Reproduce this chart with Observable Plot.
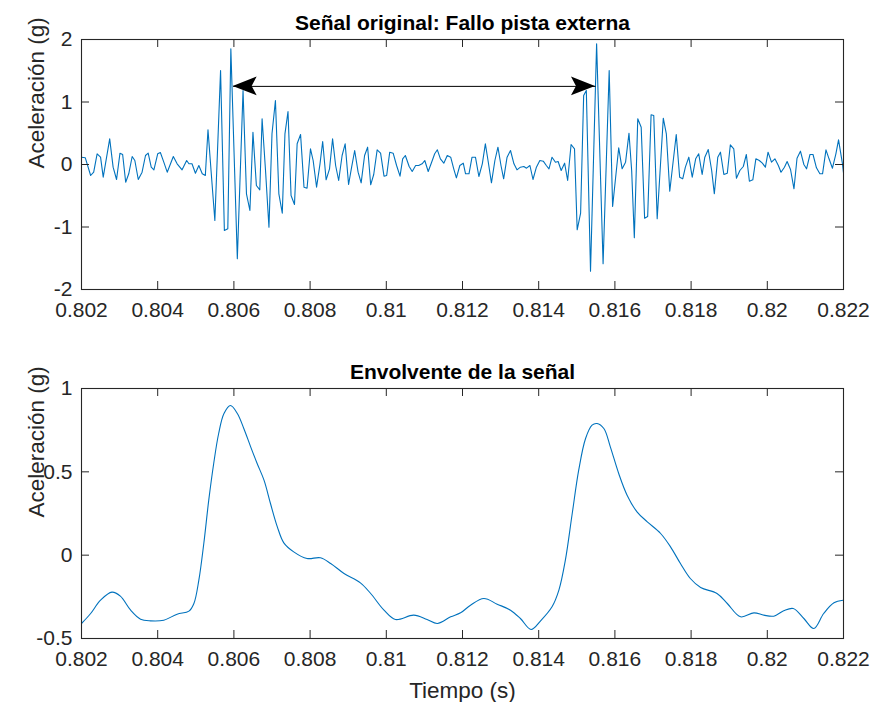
<!DOCTYPE html>
<html><head><meta charset="utf-8">
<script src="https://cdn.jsdelivr.net/npm/d3@7"></script>
<script src="https://cdn.jsdelivr.net/npm/@observablehq/plot@0.6"></script>
<style>
body{margin:0;background:#fff;}
#chart{width:873px;height:702px;overflow:hidden;}
#chart svg{display:block;}
</style></head><body><div id="chart"></div>
<script>
// ---------- data ----------
const sigT = [0.80200,0.80210,0.80224,0.80232,0.80241,0.80250,0.80257,0.80274,0.80283,0.80292,0.80301,0.80308,0.80316,0.80324,0.80333,0.80340,0.80349,0.80359,0.80368,0.80375,0.80383,0.80390,0.80400,0.80407,0.80416,0.80425,0.80441,0.80451,0.80464,0.80476,0.80482,0.80490,0.80499,0.80508,0.80517,0.80525,0.80532,0.80540,0.80550,0.80565,0.80575,0.80584,0.80592,0.80609,0.80624,0.80633,0.80642,0.80650,0.80659,0.80668,0.80674,0.80683,0.80692,0.80700,0.80709,
0.80718,0.80727,0.80734,0.80742,0.80750,0.80759,0.80766,0.80775,0.80784,0.80792,0.80801,0.80808,0.80817,0.80826,0.80833,0.80842,0.80851,0.80859,0.80867,0.80875,0.80884,0.80892,0.80901,0.80909,0.80917,0.80926,0.80934,0.80943,0.80951,0.80959,0.80967,0.80976,0.80985,0.80994,0.81001,0.81009,0.81018,0.81027,0.81036,0.81043,0.81050,0.81060,0.81068,0.81077,0.81085,0.81094,0.81101,0.81110,0.81119,0.81127,0.81134,0.81142,0.81151,0.81160,0.81169,0.81177,0.81184,0.81193,
0.81202,0.81208,0.81217,0.81225,0.81234,0.81243,0.81252,0.81260,0.81267,0.81276,0.81285,0.81293,0.81301,0.81308,0.81317,0.81326,0.81335,0.81343,0.81352,0.81361,0.81368,0.81377,0.81385,0.81394,0.81403,0.81412,0.81420,0.81427,0.81435,0.81444,0.81451,0.81459,0.81468,0.81476,0.81485,0.81494,0.81501,0.81510,0.81518,0.81525,0.81536,0.81552,0.81569,0.81585,0.81594,0.81610,0.81619,0.81628,0.81637,0.81644,0.81651,0.81660,0.81669,0.81678,0.81686,0.81695,0.81702,
0.81711,0.81727,0.81735,0.81744,0.81761,0.81770,0.81778,0.81785,0.81794,0.81803,0.81812,0.81820,0.81829,0.81836,0.81845,0.81854,0.81861,0.81870,0.81877,0.81886,0.81895,0.81903,0.81912,0.81919,0.81928,0.81937,0.81945,0.81953,0.81962,0.81970,0.81979,0.81987,0.81995,0.82002,0.82011,0.82020,0.82029,0.82036,0.82045,0.82052,0.82061,0.82070,0.82078,0.82087,0.82096,0.82103,0.82112,0.82120,0.82129,0.82138,0.82145,0.82154,0.82162,0.82171,0.82180,0.82187,0.82197,0.82203];
const sigV = [0.117,0.107,-0.176,-0.123,0.171,0.117,-0.203,0.411,-0.043,-0.24,0.181,0.16,-0.283,-0.149,0.128,0.064,-0.24,-0.123,0.144,0.181,-0.043,-0.085,0.171,0.192,0.037,-0.123,0.128,0.011,-0.085,0.064,0.011,0.011,-0.139,-0.016,-0.149,-0.176,0.555,-0.096,-0.896,1.504,-1.056,-1.029,1.851,-1.509,1.184,-0.469,-0.736,0.517,-0.336,-0.405,0.731,-0.096,-1.003,0.491,1.024,
-0.469,-0.779,0.491,0.848,-0.496,-0.64,0.331,0.48,-0.363,-0.379,0.251,0.064,-0.363,0.011,0.368,-0.245,-0.069,0.411,-0.016,-0.256,0.144,0.331,-0.32,-0.043,0.224,-0.123,-0.293,0.144,0.277,-0.325,-0.16,0.235,0.181,-0.187,-0.176,0.197,0.181,-0.016,-0.187,0.091,0.144,-0.032,-0.112,-0.016,-0.016,0.011,0.064,-0.112,0.037,0.171,0.235,0.091,0.021,0.144,0.117,-0.069,-0.213,-0.016,
0.021,-0.149,-0.149,0.117,0.117,-0.192,0.011,0.331,0.064,-0.293,0.064,0.277,-0.016,-0.229,0.117,0.224,0.011,-0.085,-0.043,-0.032,-0.059,-0.016,-0.24,-0.043,0.064,0.053,-0.016,-0.069,0.117,0.037,0.048,-0.096,0.021,-0.256,0.32,0.251,-1.045,-0.779,1.104,1.184,-1.707,1.931,-1.589,1.504,-0.672,0.267,-0.069,0.037,0.501,-0.096,-1.173,0.731,0.597,-0.859,-0.832,0.795,0.784,
-0.869,0.741,0.491,-0.427,0.48,-0.203,-0.229,-0.043,0.117,-0.203,0.091,0.171,-0.16,0.117,0.24,-0.096,-0.469,0.117,0.197,-0.16,-0.139,0.315,0.251,-0.219,-0.096,-0.032,0.16,-0.267,-0.245,0.091,0.064,0.021,-0.043,0.197,0.037,0.091,-0.016,-0.123,-0.043,0.048,-0.08,-0.389,0.101,0.213,0,-0.069,0.16,0.16,-0.053,-0.149,-0.149,0.235,0.091,-0.059,0.171,0.395,0.021,-0.283];

const envT = [0.80200,0.80224,0.80250,0.80280,0.80302,0.80329,0.80355,0.80381,0.80416,0.80451,0.80482,0.80495,0.80508,0.80521,0.80534,0.80547,0.80560,0.80574,0.80591,0.80609,0.80626,0.80644,0.80661,0.80679,0.80696,0.80714,0.80731,0.80757,0.80792,0.80827,0.80854,0.80889,0.80932,0.80959,0.80994,0.81024,0.81072,0.81107,0.81134,0.81169,0.81195,0.81221,0.81256,0.81291,0.81326,0.81352,0.81380,0.81405,0.81435,0.81453,0.81470,0.81488,0.81505,0.81523,0.81540,0.81553,0.81571,0.81588,0.81610,0.81632,0.81658,0.81685,0.81720,0.81746,0.81772,0.81798,0.81825,0.81868,0.81895,0.81930,0.81965,0.81991,0.82017,0.82043,0.82068,0.82096,0.82122,0.82148,0.82175,0.82200];
const envV = [-0.41,-0.35,-0.27,-0.222,-0.246,-0.33,-0.384,-0.394,-0.39,-0.354,-0.336,-0.29,-0.15,0.07,0.33,0.55,0.73,0.85,0.898,0.85,0.76,0.65,0.55,0.45,0.31,0.17,0.074,0.02,-0.02,-0.016,-0.05,-0.11,-0.166,-0.23,-0.33,-0.386,-0.36,-0.386,-0.41,-0.37,-0.346,-0.3,-0.26,-0.294,-0.33,-0.38,-0.446,-0.394,-0.31,-0.21,-0.03,0.25,0.51,0.7,0.78,0.79,0.76,0.65,0.49,0.36,0.26,0.2,0.13,0.05,-0.05,-0.14,-0.194,-0.23,-0.29,-0.37,-0.346,-0.36,-0.366,-0.334,-0.32,-0.38,-0.44,-0.35,-0.286,-0.27];

const xTicks = [0.802,0.804,0.806,0.808,0.81,0.812,0.814,0.816,0.818,0.82,0.822];
const yTicksTop = [-2,-1,0,1,2];
const yTicksBottom = [-0.5,0,0.5,1];
const titles = ["Señal original: Fallo pista externa", "Envolvente de la señal"];
const yLabel = "Aceleración (g)";
const xLabel = "Tiempo (s)";
const arrowT = [0.80598, 0.81549];
const arrowV = [1.25, 1.25];

// ---------- drawing ----------
const FONT = '"Liberation Sans", Arial, Helvetica, sans-serif';
const INK = "#262626";
const BLUE = "#0072BD";
const W = 873, ML = 81, MR = 30, TL = 8;
const fmt = d => String(+(+d).toFixed(3));

const signal = sigT.map((t, i) => ({t, v: sigV[i]})).filter(d => d.v !== undefined);
const envelope = envT.map((t, i) => ({t, v: envV[i]})).filter(d => d.v !== undefined);

function panel({data, yDomain, yTicks, title, height, marginTop, marginBottom, curve, extra = []}) {
  const fw = W - ML - MR;
  const fh = height - marginTop - marginBottom;
  return Plot.plot({
    width: W, height, marginLeft: ML, marginRight: MR, marginTop, marginBottom,
    style: {fontFamily: FONT, fontSize: "21px", color: INK, background: "white", overflow: "visible"},
    x: {domain: [0.802, 0.822]},
    y: {domain: yDomain},
    marks: [
      Plot.line(data, {x: "t", y: "v", stroke: BLUE, strokeWidth: 1.1, clip: true, curve}),
      Plot.tickX(xTicks, {x: d => d, insetTop: fh - TL, stroke: INK}),
      Plot.tickX(xTicks, {x: d => d, insetBottom: fh - TL, stroke: INK}),
      Plot.tickY(yTicks, {y: d => d, insetRight: fw - TL, stroke: INK}),
      Plot.tickY(yTicks, {y: d => d, insetLeft: fw - TL, stroke: INK}),
      Plot.frame({stroke: INK, strokeWidth: 1.1}),
      Plot.axisX(xTicks, {tickSize: 0, tickPadding: 13, tickFormat: fmt, label: null, fill: INK}),
      Plot.axisY(yTicks, {tickSize: 0, tickPadding: 9, tickFormat: fmt, label: null, fill: INK}),
      Plot.text([yLabel], {text: d => d, frameAnchor: "left", dx: -45, dy: 4, rotate: -90, fontSize: 22.5, fill: INK}),
      Plot.text([title], {text: d => d, frameAnchor: "top", dy: -10, lineAnchor: "bottom", fontSize: 21, fontWeight: "bold", fill: "black"}),
      ...extra
    ]
  });
}

const topPlot = panel({
  data: signal, yDomain: [-2, 2], yTicks: yTicksTop, title: titles[0],
  height: 329, marginTop: 39, marginBottom: 40, curve: "linear",
  extra: [
    Plot.link([{x1: arrowT[0], x2: arrowT[1], y1: arrowV[0], y2: arrowV[1]}],
      {x1: "x1", x2: "x2", y1: "y1", y2: "y2", stroke: "black", strokeWidth: 1})
  ]
});

const bottomPlot = panel({
  data: envelope, yDomain: [-0.5, 1], yTicks: yTicksBottom, title: titles[1],
  height: 373, marginTop: 59, marginBottom: 64, curve: "catmull-rom",
  extra: [
    Plot.text([xLabel], {text: d => d, frameAnchor: "bottom", dy: 59, lineAnchor: "bottom", fontSize: 22.5, fill: INK})
  ]
});

// filled MATLAB-style arrowheads positioned through the plot's scales
(function () {
  const sx = topPlot.scale("x"), sy = topPlot.scale("y");
  const L = 24, H = 9.3, N = 5;
  const heads = [
    {x: sx.apply(arrowT[0]), y: sy.apply(arrowV[0]), dir: -1},
    {x: sx.apply(arrowT[1]), y: sy.apply(arrowV[1]), dir: 1}
  ];
  const g = d3.select(topPlot).append("g");
  for (const h of heads) {
    const b = -h.dir;
    const p = d3.path();
    p.moveTo(h.x, h.y);
    p.lineTo(h.x + b * L, h.y - H);
    p.lineTo(h.x + b * (L - N), h.y);
    p.lineTo(h.x + b * L, h.y + H);
    p.closePath();
    g.append("path").attr("d", p.toString()).attr("fill", "black");
  }
})();

const chart = document.getElementById("chart");
chart.appendChild(topPlot);
chart.appendChild(bottomPlot);
</script>
</body></html>
